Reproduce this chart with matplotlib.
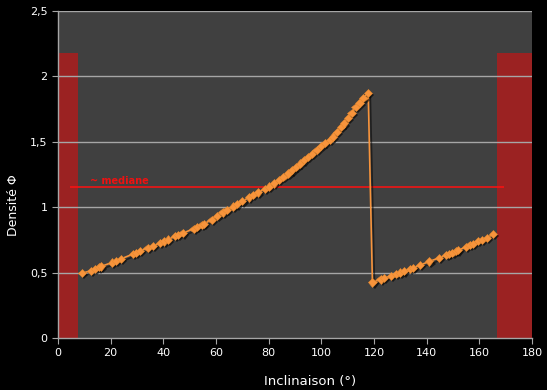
import matplotlib
matplotlib.use("Agg")
import matplotlib.pyplot as plt
import matplotlib.patheffects as pe
from matplotlib.ticker import FuncFormatter

# ---- data ----
x_up = [9.2, 12.5, 14.0, 15.5, 16.3, 20.5, 22.0, 23.8, 28.5, 29.5, 31.0, 34.0, 36.0, 38.8,
        40.2, 41.8, 44.5, 45.5, 47.3, 51.5, 52.8, 54.5, 55.5, 58.3, 60.5, 62.5, 64.0, 66.5,
        68.0, 70.0, 72.5, 74.0, 76.0, 78.5, 80.0, 82.0, 84.0, 85.6, 87.5, 89.0, 90.5, 92.0,
        93.5, 95.0, 96.5, 98.2, 100.0, 101.5, 103.3, 104.5, 106.0, 107.5, 108.5, 110.0,
        111.5, 113.0, 114.5, 116.0, 117.8]
y_up = [0.495, 0.515, 0.528, 0.540, 0.547, 0.577, 0.590, 0.604, 0.642, 0.650, 0.664, 0.688,
        0.703, 0.725, 0.738, 0.753, 0.778, 0.786, 0.800, 0.836, 0.848, 0.864, 0.873, 0.905,
        0.935, 0.960, 0.980, 1.005, 1.022, 1.045, 1.075, 1.092, 1.113, 1.140, 1.158, 1.182,
        1.208, 1.230, 1.258, 1.282, 1.308, 1.334, 1.358, 1.383, 1.408, 1.437, 1.467, 1.490,
        1.516, 1.540, 1.575, 1.612, 1.640, 1.680, 1.720, 1.765, 1.800, 1.835, 1.875]
x_down = [119.4, 122.5, 123.8, 126.5, 128.5, 130.0, 131.5, 133.8, 134.8, 137.5, 141.0, 144.6,
          147.5, 148.5, 149.8, 151.2, 152.0, 155.0, 156.3, 157.5, 159.5, 161.0, 162.8, 165.3]
y_down = [0.425, 0.448, 0.458, 0.474, 0.488, 0.500, 0.510, 0.527, 0.535, 0.558, 0.585, 0.612,
          0.635, 0.643, 0.652, 0.663, 0.670, 0.698, 0.710, 0.720, 0.740, 0.752, 0.767, 0.793]
band_left = (0.0, 7.6)
band_right = (166.7, 180.0)
band_height = 2.18
median_value = 1.154
median_span = (4.6, 169.4)
x_ticks = [0, 20, 40, 60, 80, 100, 120, 140, 160, 180]
y_ticks = [0, 0.5, 1.0, 1.5, 2.0, 2.5]

xs = x_up + x_down
ys = y_up + y_down

fig = plt.figure(figsize=(5.47, 3.90), dpi=100, facecolor="black")
ax = fig.add_axes([58/547, 52/390, 474/547, 327/390])
ax.set_facecolor("#404040")

# bands
ax.bar([band_left[0]], [band_height], width=band_left[1]-band_left[0], align="edge",
       color="#9b2222", zorder=0.5)
ax.bar([band_right[0]], [band_height], width=band_right[1]-band_right[0], align="edge",
       color="#9b2222", zorder=0.5)

# grid
for yv in y_ticks[1:]:
    ax.axhline(yv, color="#a6a6a6", lw=1, zorder=1, snap=True)

# median
ax.hlines(median_value, median_span[0], median_span[1], color="#ff1010", lw=1.1,
          zorder=2, snap=True)
ax.text(12.2, 1.2, "~ mediane", color="#ee1111", fontsize=7,
        fontweight="bold", zorder=3, va="center")

orange = "#f7943c"
ax.plot(xs, ys, color=orange, lw=1.2, zorder=4,
        path_effects=[pe.SimpleLineShadow(offset=(1.5, -1.5), shadow_color="black", alpha=0.5),
                      pe.Normal()])
ax.plot(xs, ys, linestyle="none", marker="D", markersize=4.2, color=orange,
        markeredgecolor="#e88a2e", markeredgewidth=0.4, zorder=5,
        path_effects=[pe.SimplePatchShadow(offset=(1.5, -1.5), shadow_rgbFace="black", alpha=0.6),
                      pe.Normal()])

ax.set_xlim(0, 180)
ax.set_ylim(0, 2.5)
ax.set_xticks(x_ticks)
ax.set_yticks(y_ticks)
ax.yaxis.set_major_formatter(FuncFormatter(lambda v, p: ("%g" % v).replace(".", ",")))

for s in ["top", "right"]:
    ax.spines[s].set_visible(False)
for s in ["left", "bottom"]:
    ax.spines[s].set_color("#a6a6a6")
    ax.spines[s].set_linewidth(1)
ax.tick_params(colors="#a6a6a6", labelcolor="white", labelsize=8, length=4, direction="out")

ax.set_xlabel("Inclinaison (°)", color="white", fontsize=9.5)
ax.set_ylabel("Densité Φ", color="white", fontsize=9)
# label positions in axes coords (reference: x-label centred ~310px, y=381; y-label x~14, y~205)
ax.xaxis.set_label_coords((310 - 58) / 474, (338 - 381) / 327)
ax.xaxis.label.set_va("center")
ax.yaxis.set_label_coords((14 - 58) / 474, (338 - 205) / 327)
ax.yaxis.label.set_va("center")

fig.savefig("out.png", dpi=100, facecolor="black")
